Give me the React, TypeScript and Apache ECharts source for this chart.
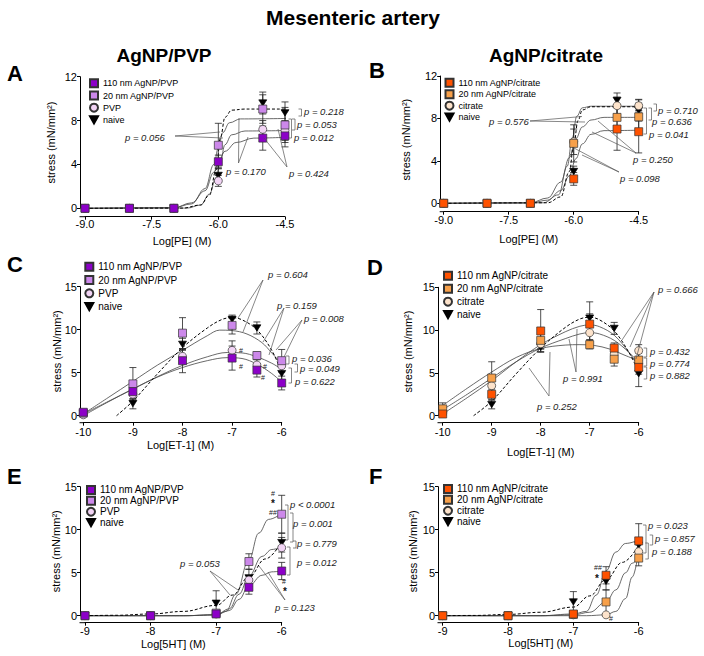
import React, { useEffect, useRef } from "react";
import * as echarts from "echarts";

const FONT = "'Liberation Sans', Arial, Helvetica, sans-serif";

// ---------- x categories (log molar concentration) ----------
const xPE = [-9, -8, -7, -6, -5, -4.5];
const xET = [-10, -9, -8, -7, -6.5, -6];
const x5HT = [-9, -8, -7, -6.5, -6];

// ---------- series names ----------
const namesPVP = ["110 nm AgNP/PVP", "20 nm AgNP/PVP", "PVP", "naive"];
const namesCit = ["110 nm AgNP/citrate", "20 nm AgNP/citrate", "citrate", "naive"];

// ---------- Panel A (PE, PVP) ----------
const A_110 = [0, 0, 0, 4.25, 6.4, 6.6];
const A_110_err = [0, 0, 0, 0.6, 1.1, 1.0];
const A_20 = [0, 0, 0, 5.75, 9.05, 7.6];
const A_20_err = [0, 0, 0, 2.0, 1.3, 1.6];
const A_pvp = [0, 0, 0, 2.5, 7.2, 7.1];
const A_pvp_err = [0, 0, 0, 0.5, 0.8, 0.9];
const A_naive = [0, 0, 0, 3.0, 9.6, 8.7];
const A_naive_err = [0, 0, 0, 0.6, 1.0, 1.0];
const A_fit_110 = [[-9, 0], [-7, 0.05], [-6.6, 0.5], [-6.3, 1.6], [-6.1, 3.3], [-6, 4.2], [-5.85, 5.2], [-5.6, 6.0], [-5.2, 6.4], [-4.35, 6.5]];
const A_fit_20 = [[-9, 0], [-7, 0.05], [-6.6, 0.4], [-6.3, 1.8], [-6.1, 4.0], [-6, 5.5], [-5.9, 6.9], [-5.75, 7.8], [-5.5, 8.15], [-4.35, 8.2]];
const A_fit_pvp = [[-9, 0], [-6.7, 0.02], [-6.4, 0.3], [-6.2, 1.3], [-6.05, 2.8], [-5.95, 4.4], [-5.85, 5.8], [-5.7, 6.7], [-5.4, 7.05], [-4.35, 7.1]];
const A_fit_naive = [[-9, 0], [-6.8, 0.02], [-6.4, 0.3], [-6.2, 1.2], [-6.05, 3.5], [-5.95, 6.5], [-5.85, 8.3], [-5.7, 8.95], [-5.4, 9.05], [-4.2, 9.05]];

// ---------- Panel B (PE, citrate) ----------
const B_110 = [0, 0, 0, 2.3, 7.0, 6.75];
const B_110_err = [0, 0, 0, 0.6, 2.0, 2.0];
const B_20 = [0, 0, 0, 5.65, 8.1, 8.15];
const B_20_err = [0, 0, 0, 1.75, 1.2, 1.3];
const B_cit = [0, 0, 0, 5.8, 9.2, 9.2];
const B_cit_err = [0, 0, 0, 1.2, 0.8, 0.6];
const B_naive = [0, 0, 0, 3.0, 9.7, 8.75];
const B_naive_err = [0, 0, 0, 0.5, 0.7, 1.0];
const B_fit_110 = [[-9, 0], [-7, 0.02], [-6.6, 0.3], [-6.3, 1.2], [-6.1, 2.6], [-5.95, 4.2], [-5.8, 5.6], [-5.6, 6.5], [-5.3, 6.85], [-4.35, 6.9]];
const B_fit_20 = [[-9, 0], [-7, 0.05], [-6.6, 0.5], [-6.3, 2.0], [-6.1, 4.3], [-5.95, 6.1], [-5.8, 7.2], [-5.6, 7.85], [-5.3, 8.1], [-4.35, 8.1]];
const B_fit_cit = [[-9, 0], [-6.7, 0.05], [-6.35, 0.8], [-6.15, 3.5], [-6.03, 6.2], [-5.93, 8.2], [-5.8, 9.0], [-5.6, 9.15], [-4.35, 9.15]];
const B_fit_naive = [[-9, 0], [-6.6, 0.05], [-6.3, 0.6], [-6.1, 3.0], [-6, 5.5], [-5.9, 7.8], [-5.8, 8.8], [-5.6, 9.1], [-4.35, 9.1]];

// ---------- Panel C (ET-1, PVP) ----------
const C_110 = [0.4, 2.8, 6.4, 6.7, 5.3, 3.8];
const C_110_err = [0.2, 0.5, 1.4, 1.4, 0.8, 0.8];
const C_20 = [0.3, 3.7, 9.6, 10.5, 7.0, 6.4];
const C_20_err = [0.2, 1.9, 1.8, 1.0, 0.4, 1.3];
const C_pvp = [0.1, 2.5, 6.9, 7.6, 5.9, 5.8];
const C_pvp_err = [0.1, 0.6, 0.8, 1.1, 0.6, 0.7];
const C_naive = [0.2, 1.4, 8.3, 11.2, 10.2, 4.9];
const C_naive_err = [0.1, 0.6, 0.7, 0.5, 0.7, 0.9];
const C_fit_110 = [[-10, 0.2], [-9.5, 1.65], [-9, 3.1], [-8.5, 4.5], [-8, 5.6], [-7.5, 6.4], [-7.1, 6.75], [-6.8, 6.65], [-6.5, 6.0], [-6.2, 4.9], [-6, 3.9]];
const C_fit_20 = [[-10, 0.2], [-9.5, 2.1], [-9, 4.0], [-8.5, 5.9], [-8, 7.6], [-7.5, 9.3], [-7.25, 9.95], [-7.0, 9.9], [-6.7, 9.5], [-6.4, 8.5], [-6.2, 7.3], [-6, 6.0]];
const C_fit_pvp = [[-10, 0], [-9.5, 1.6], [-9, 3.1], [-8.5, 4.55], [-8, 5.85], [-7.5, 6.85], [-7.1, 7.35], [-6.8, 7.3], [-6.5, 6.85], [-6.2, 6.1], [-6, 5.4]];
const C_fit_naive = [[-9.33, 0], [-9, 1.7], [-8.5, 4.9], [-8, 7.9], [-7.5, 10.2], [-7.2, 11.2], [-7.0, 11.4], [-6.8, 11.15], [-6.5, 10.0], [-6.2, 7.6], [-6, 5.0]];

// ---------- Panel D (ET-1, citrate) ----------
const D_110 = [0.2, 2.5, 9.9, 10.7, 7.9, 5.65];
const D_110_err = [0.2, 0.6, 2.5, 2.6, 0.6, 0.8];
const D_20 = [0.8, 4.4, 8.8, 8.3, 6.6, 6.5];
const D_20_err = [0.7, 1.9, 1.0, 0.5, 0.8, 0.8];
const D_cit = [0.3, 3.5, 8.4, 9.7, 7.2, 7.6];
const D_cit_err = [0.2, 0.8, 0.6, 0.8, 0.6, 0.7];
const D_naive = [0.1, 1.3, 8.0, 11.4, 10.2, 4.9];
const D_naive_err = [0.1, 0.5, 0.5, 0.5, 0.7, 1.5];
const D_fit_110 = [[-10, 0.2], [-9.5, 2.1], [-9, 4.1], [-8.5, 6.3], [-8, 8.3], [-7.5, 9.8], [-7.2, 10.45], [-7.0, 10.6], [-6.8, 10.4], [-6.5, 9.4], [-6.2, 7.4], [-6, 5.7]];
const D_fit_20 = [[-10, 1.2], [-9.5, 3.2], [-9, 5.1], [-8.5, 6.8], [-8, 7.85], [-7.5, 8.25], [-7.2, 8.3], [-6.9, 8.2], [-6.6, 7.8], [-6.3, 7.1], [-6, 6.4]];
const D_fit_cit = [[-10, 0.7], [-9.5, 2.5], [-9, 4.4], [-8.5, 6.3], [-8, 7.9], [-7.5, 9.0], [-7.2, 9.55], [-7.0, 9.7], [-6.8, 9.55], [-6.5, 8.8], [-6.2, 7.4], [-6, 6.2]];
const D_fit_naive = [[-9.37, 0], [-9, 1.7], [-8.5, 4.9], [-8, 7.9], [-7.5, 10.3], [-7.2, 11.3], [-7.0, 11.5], [-6.8, 11.2], [-6.5, 9.9], [-6.2, 7.4], [-6, 5.1]];

// ---------- Panel E (5HT, PVP) ----------
const E_110 = [0, 0, 0.2, 3.3, 5.2];
const E_110_err = [0, 0, 0.1, 0.8, 1.0];
const E_20 = [0, 0, 0.3, 6.3, 11.8];
const E_20_err = [0, 0, 0.1, 0.9, 2.2];
const E_pvp = [0, 0, 0.2, 4.15, 7.9];
const E_pvp_err = [0, 0, 0.1, 0.5, 1.2];
const E_naive = [0, 0, 1.45, 4.4, 8.5];
const E_naive_err = [0, 0, 1.45, 1.0, 1.1];
const E_fit_110 = [[-9, 0], [-7.5, 0], [-7, 0.1], [-6.8, 0.6], [-6.65, 1.9], [-6.5, 3.5], [-6.3, 4.7], [-6.15, 5.1], [-6, 5.2]];
const E_fit_20 = [[-9, 0], [-7.5, 0], [-7, 0.1], [-6.85, 0.5], [-6.7, 2.5], [-6.5, 6.5], [-6.35, 9.6], [-6.2, 11.2], [-6, 11.9]];
const E_fit_pvp = [[-9, 0], [-7.5, 0], [-7, 0.1], [-6.8, 0.8], [-6.65, 2.5], [-6.5, 4.6], [-6.3, 6.9], [-6.15, 7.7], [-6, 8.0]];
const E_fit_naive = [[-9, 0], [-8.5, 0.05], [-8, 0.2], [-7.5, 0.5], [-7, 1.2], [-6.75, 2.4], [-6.5, 4.5], [-6.25, 6.6], [-6, 8.6]];

// ---------- Panel F (5HT, citrate) ----------
const F_110 = [0, 0, 0.2, 4.7, 8.7];
const F_110_err = [0, 0, 0.1, 1.0, 2.0];
const F_20 = [0, 0, 0.15, 1.6, 6.7];
const F_20_err = [0, 0, 0.1, 1.4, 0.9];
const F_cit = [0, 0, 0.1, 0.1, 7.45];
const F_cit_err = [0, 0, 0.05, 0.1, 0.8];
const F_naive = [0, 0, 1.6, 4.0, 8.2];
const F_naive_err = [0, 0, 1.2, 1.0, 0.8];
const F_fit_110 = [[-9, 0], [-7.5, 0], [-7, 0.2], [-6.8, 0.5], [-6.65, 2.4], [-6.5, 5.2], [-6.35, 7.4], [-6.2, 8.4], [-6, 8.8]];
const F_fit_20 = [[-9, 0], [-7.5, 0], [-7, 0.1], [-6.75, 0.4], [-6.5, 1.6], [-6.35, 3.0], [-6.2, 5.0], [-6.1, 6.1], [-6, 6.8]];
const F_fit_cit = [[-9, 0], [-6.8, 0], [-6.5, 0.1], [-6.35, 0.5], [-6.2, 2.0], [-6.1, 4.5], [-6, 7.5]];
const F_fit_naive = [[-9, 0], [-8.5, 0.03], [-8, 0.15], [-7.5, 0.4], [-7, 1.0], [-6.75, 2.3], [-6.5, 4.2], [-6.25, 6.2], [-6, 8.2]];

// ---------- axis settings ----------
const xAxisPE = { min: -9, max: -4.5, interval: 1.5, dec: 1, name: "Log[PE] (M)" };
const xAxisET = { min: -10, max: -6, interval: 1, dec: 0, name: "Log[ET-1] (M)" };
const xAxis5HT = { min: -9, max: -6, interval: 1, dec: 0, name: "Log[5HT] (M)" };
const yAxisPE = { max: 12, interval: 4 };
const yAxisOther = { max: 15, interval: 5 };

const colPVP = ["#8C00C8", "#CC88EA", "#F2D4F5", "#000000"];
const colCit = ["#FF5200", "#F7A04A", "#FDE3CB", "#000000"];
const DOWN_TRI = "path://M0,0L10,0L5,9Z";
const symbols = ["rect", "rect", "circle", DOWN_TRI];

const panels = [
  { xs: xPE, names: namesPVP, colors: colPVP, vals: [A_110, A_20, A_pvp, A_naive], errs: [A_110_err, A_20_err, A_pvp_err, A_naive_err], fits: [A_fit_110, A_fit_20, A_fit_pvp, A_fit_naive], xa: xAxisPE, ya: yAxisPE, bell: false },
  { xs: xPE, names: namesCit, colors: colCit, vals: [B_110, B_20, B_cit, B_naive], errs: [B_110_err, B_20_err, B_cit_err, B_naive_err], fits: [B_fit_110, B_fit_20, B_fit_cit, B_fit_naive], xa: xAxisPE, ya: yAxisPE, bell: false },
  { xs: xET, names: namesPVP, colors: colPVP, vals: [C_110, C_20, C_pvp, C_naive], errs: [C_110_err, C_20_err, C_pvp_err, C_naive_err], fits: [C_fit_110, C_fit_20, C_fit_pvp, C_fit_naive], xa: xAxisET, ya: yAxisOther, bell: true },
  { xs: xET, names: namesCit, colors: colCit, vals: [D_110, D_20, D_cit, D_naive], errs: [D_110_err, D_20_err, D_cit_err, D_naive_err], fits: [D_fit_110, D_fit_20, D_fit_cit, D_fit_naive], xa: xAxisET, ya: yAxisOther, bell: true },
  { xs: x5HT, names: namesPVP, colors: colPVP, vals: [E_110, E_20, E_pvp, E_naive], errs: [E_110_err, E_20_err, E_pvp_err, E_naive_err], fits: [E_fit_110, E_fit_20, E_fit_pvp, E_fit_naive], xa: xAxis5HT, ya: yAxisOther, bell: false },
  { xs: x5HT, names: namesCit, colors: colCit, vals: [F_110, F_20, F_cit, F_naive], errs: [F_110_err, F_20_err, F_cit_err, F_naive_err], fits: [F_fit_110, F_fit_20, F_fit_cit, F_fit_naive], xa: xAxis5HT, ya: yAxisOther, bell: false },
];

// ---------- layout (pixels) ----------
const LAYOUT = [
  { left: 85, top: 76.7, width: 200, height: 131.6, xOff: 8.4, yOff: 5, xLM: 2, xNG: 19, xShift: -3, yNG: 24, legL: 89, legT: 78.3, legF: 9, legLH: 10, legG: 2.2 },
  { left: 443.7, top: 76, width: 195, height: 127.3, xOff: 8.4, yOff: 3.5, xLM: 3, xNG: 22, xShift: -12.5, yNG: 29, legL: 444.5, legT: 77.7, legF: 9, legLH: 10, legG: 1.5 },
  { left: 83.3, top: 286.7, width: 198.4, height: 129, xOff: 7, yOff: 3.3, xLM: 3.5, xNG: 17, xShift: -2, yNG: 17.5, legL: 84.3, legT: 261.2, legF: 10, legLH: 11, legG: 2.3 },
  { left: 442.7, top: 287.3, width: 196, height: 128.4, xOff: 7, yOff: 4.7, xLM: 3.5, xNG: 24, xShift: 0, yNG: 25, legL: 443, legT: 270.2, legF: 10, legLH: 11, legG: 2 },
  { left: 85, top: 486.7, width: 196.7, height: 129, xOff: 7, yOff: 5, xLM: 2.5, xNG: 16, xShift: -10, yNG: 19, legL: 86, legT: 484.5, legF: 10, legLH: 10.9, legG: 0 },
  { left: 442.7, top: 486.7, width: 196, height: 129, xOff: 7, yOff: 4.7, xLM: 2.5, xNG: 15, xShift: 0, yNG: 20, legL: 443, legT: 483.5, legF: 10, legLH: 10.9, legG: 0 },
];

// ---------- graphic helpers ----------
const T = (text: string, x: number, y: number, o: any = {}) => ({
  type: "text",
  x,
  y,
  silent: true,
  z: 10,
  style: {
    text,
    fontSize: o.size ?? 9.5,
    fontStyle: o.italic === false ? "normal" : "italic",
    fontWeight: o.bold ? "bold" : "normal",
    fontFamily: FONT,
    fill: o.color ?? "#222",
    align: o.align ?? "left",
    verticalAlign: "middle",
  },
});
const LS = { stroke: "#555", lineWidth: 0.7 };
const PL = (pts: number[][]) => ({ type: "polyline", silent: true, z: 10, shape: { points: pts }, style: { ...LS, fill: null } });
const BR = (x: number, y1: number, y2: number, w = 3) => PL([[x - w, y1], [x, y1], [x, y2], [x - w, y2]]);
const LN = (x1: number, y1: number, x2: number, y2: number) => ({ type: "line", silent: true, z: 10, shape: { x1, y1, x2, y2 }, style: LS });
const MARK = (t: string, x: number, y: number, size = 7) => T(t, x, y, { size, italic: false, align: "center", color: "#222" });
const STAR = (x: number, y: number) => T("*", x, y, { size: 10, italic: false, bold: true, align: "center", color: "#111" });
const HEAD = (t: string, x: number, y: number, size: number, align = "center") => T(t, x, y, { size, italic: false, bold: true, align, color: "#000" });

// x-axis line continues left to the (offset) y-axis, GraphPad style
const axisCorners = () =>
  LAYOUT.map((L) => {
    const y = L.top + L.height + L.xOff;
    return { type: "line", silent: true, z: 5, shape: { x1: L.left - L.yOff - 0.5, y1: y, x2: L.left, y2: y }, style: { stroke: "#000", lineWidth: 1 } };
  });

function buildGraphics() {
  return [
    ...axisCorners(),
    HEAD("Mesenteric artery", 353, 17, 21),
    HEAD("AgNP/PVP", 164, 55, 19),
    HEAD("AgNP/citrate", 546, 55, 19),
    HEAD("A", 7, 73, 22, "left"),
    HEAD("B", 369, 70, 22, "left"),
    HEAD("C", 7, 264, 22, "left"),
    HEAD("D", 367, 267, 22, "left"),
    HEAD("E", 7, 476, 22, "left"),
    HEAD("F", 369, 476, 22, "left"),
    // A
    T("p = 0.218", 304, 111), T("p = 0.053", 297, 124), T("p = 0.012", 294, 137.5),
    BR(301.5, 109, 116), BR(295, 119, 130), BR(291.5, 119, 138),
    T("p = 0.056", 125, 137), LN(175, 136, 220, 132), LN(175, 136, 223, 138),
    T("p = 0.170", 226, 171.5), PL([[239, 118], [238.5, 163], [248, 137]]),
    T("p = 0.424", 289, 173), PL([[278, 129], [287, 167], [264, 138]]),
    // B
    T("p = 0.710", 658, 110), T("p = 0.636", 652, 121), T("p = 0.041", 649, 134),
    BR(656.5, 104, 111), BR(651.5, 108, 120), BR(646.5, 108, 134),
    T("p = 0.576", 489, 121), PL([[582, 116.5], [530, 121], [585, 122]]),
    T("p = 0.250", 633, 159), PL([[598, 121], [636, 153], [592, 132]]),
    T("p = 0.098", 620, 178), PL([[574, 148], [619, 172], [582, 155]]),
    // C
    T("p = 0.604", 268, 274), PL([[238, 318], [263, 280], [243, 332]]),
    T("p = 0.159", 277, 305), PL([[263, 342], [284, 308], [269, 355]]),
    T("p = 0.008", 304, 318), PL([[276, 350], [302, 320], [284, 357]]),
    T("p = 0.036", 292, 358.5), T("p = 0.049", 300, 368.5), T("p = 0.622", 295, 381),
    BR(289, 356, 364), BR(297.5, 364, 372), BR(291.5, 368, 383),
    MARK("#", 241, 350), MARK("#", 241, 366), MARK("#", 265, 366), MARK("#", 263, 377),
    // D
    T("p = 0.666", 658, 289), LN(654, 292, 622, 340), LN(654, 292, 630, 347), LN(654, 292, 636, 359),
    T("p = 0.432", 650, 351), T("p = 0.774", 650, 363.5), T("p = 0.882", 650, 375.5),
    BR(646.7, 348, 357), BR(646.7, 358, 366), BR(646.7, 367, 379),
    T("p = 0.991", 563, 378), PL([[569, 339], [576, 372], [577, 329]]),
    T("p = 0.252", 537, 406), PL([[529, 368], [549, 396], [550, 352]]),
    // E
    T("p < 0.0001", 290, 504), T("p = 0.001", 293, 523), T("p = 0.779", 297, 543), T("p = 0.012", 297, 562),
    BR(288, 505, 540), BR(293, 513, 542), BR(296, 541, 548), BR(290, 547, 575),
    T("p = 0.053", 180, 563), PL([[230, 595], [210, 571], [238, 590]]),
    T("p = 0.123", 275, 607), PL([[259, 566], [285, 600], [268, 572]]),
    MARK("#", 273, 493), STAR(273, 503), MARK("##", 273, 512.5), MARK("#", 284, 581.5), STAR(285, 591),
    // F
    T("p = 0.023", 648, 525), T("p = 0.857", 655, 538), T("p = 0.188", 652, 551),
    BR(646, 525, 553), BR(652.7, 535, 545), BR(648.3, 543, 559),
    MARK("##", 598, 567.5), STAR(597, 578), MARK("#", 611, 618),
  ];
}

function buildOption() {
  const grid: any[] = [];
  const xAxis: any[] = [];
  const yAxis: any[] = [];
  const series: any[] = [];
  const legend: any[] = [];

  panels.forEach((p, i) => {
    const L = LAYOUT[i];
    grid.push({ left: L.left, top: L.top, width: L.width, height: L.height, outerBoundsMode: "none", containLabel: false });
    xAxis.push({
      gridIndex: i, type: "value", min: p.xa.min, max: p.xa.max, interval: p.xa.interval, offset: L.xOff,
      axisLine: { show: true, onZero: false, lineStyle: { color: "#000", width: 1 } },
      axisTick: { show: true, length: 3, lineStyle: { color: "#000", width: 1 } },
      axisLabel: { margin: L.xLM, fontSize: 11, color: "#000", fontFamily: FONT, formatter: (v: number) => (p.xa.dec ? v.toFixed(1) : String(v)) },
      splitLine: { show: false },
      name: p.xa.name, nameLocation: "middle", nameGap: L.xNG, nameMoveOverlap: false,
      nameTextStyle: { fontSize: 11, color: "#000", fontFamily: FONT, padding: L.xShift < 0 ? [0, -2 * L.xShift, 0, 0] : 0 },
    });
    yAxis.push({
      gridIndex: i, type: "value", min: 0, max: p.ya.max, interval: p.ya.interval, offset: L.yOff,
      axisLine: { show: true, onZero: false, lineStyle: { color: "#000", width: 1 } },
      axisTick: { show: true, length: 3, lineStyle: { color: "#000", width: 1 } },
      axisLabel: { margin: 3, fontSize: 11, color: "#000", fontFamily: FONT },
      splitLine: { show: false },
      name: "stress (mN/mm²)", nameLocation: "middle", nameRotate: 90, nameGap: L.yNG, nameMoveOverlap: false,
      nameTextStyle: { fontSize: 11, color: "#000", fontFamily: FONT },
    });

    // fitted curves
    p.fits.forEach((f, k) => {
      series.push({
        type: "line", name: `fit-${i}-${k}`, xAxisIndex: i, yAxisIndex: i, data: f,
        showSymbol: false, symbol: "none",
        smooth: p.bell ? 0.35 : 0.4,
        smoothMonotone: p.bell ? undefined : "x",
        clip: false, silent: true, z: 2,
        lineStyle: k === 3 ? { color: "#000", width: 1, type: [3, 2] } : { color: "#444", width: 0.8 },
        legendHoverLink: false,
      });
    });

    // error bars
    const errData: number[][] = [];
    p.vals.forEach((v, k) => v.forEach((y, j) => errData.push([p.xs[j], y, p.errs[k][j]])));
    series.push({
      type: "custom", name: `err-${i}`, xAxisIndex: i, yAxisIndex: i, data: errData, silent: true, clip: false, z: 3,
      encode: { x: 0, y: 1 },
      renderItem: (_params: any, api: any) => {
        const x = api.value(0), y = api.value(1), e = api.value(2);
        if (!(e > 0)) return { type: "group", children: [] };
        const top = api.coord([x, y + e]);
        const bot = api.coord([x, y - e]);
        const hw = 3.5;
        const st = { stroke: "#222", lineWidth: 0.8 };
        return {
          type: "group",
          children: [
            { type: "line", shape: { x1: top[0], y1: top[1], x2: bot[0], y2: bot[1] }, style: st },
            { type: "line", shape: { x1: top[0] - hw, y1: top[1], x2: top[0] + hw, y2: top[1] }, style: st },
            { type: "line", shape: { x1: bot[0] - hw, y1: bot[1], x2: bot[0] + hw, y2: bot[1] }, style: st },
          ],
        };
      },
    });

    // markers: naive, control, 20 nm, 110 nm (110 on top)
    [3, 2, 1, 0].forEach((k) => {
      series.push({
        type: "scatter", name: p.names[k], xAxisIndex: i, yAxisIndex: i,
        data: p.xs.map((x, j) => [x, p.vals[k][j]]),
        symbol: symbols[k], symbolSize: k === 3 ? [8, 7] : 8, symbolKeepAspect: true,
        itemStyle: { color: p.colors[k], borderColor: k === 3 ? "#000" : "#333", borderWidth: 0.7, opacity: 1 },
        clip: false, silent: true, z: 4,
      });
    });

    legend.push({
      show: true, orient: "vertical", left: L.legL, top: L.legT, itemWidth: 8, itemHeight: 8, itemGap: L.legG,
      padding: 0, selectedMode: false, data: p.names,
      textStyle: { fontSize: L.legF, lineHeight: L.legLH, color: "#000", fontFamily: FONT },
    });
  });

  return {
    animation: false,
    backgroundColor: "#fff",
    textStyle: { fontFamily: FONT },
    grid, xAxis, yAxis, series, legend,
    graphic: buildGraphics(),
  };
}

export default function App() {
  const ref = useRef<HTMLDivElement>(null);
  useEffect(() => {
    const chart = echarts.init(ref.current as HTMLDivElement, undefined, { renderer: "svg" });
    chart.setOption(buildOption() as any);
    return () => chart.dispose();
  }, []);
  return <div ref={ref} style={{ position: "absolute", left: 0, top: 0, width: 704, height: 656, background: "#fff" }} />;
}
